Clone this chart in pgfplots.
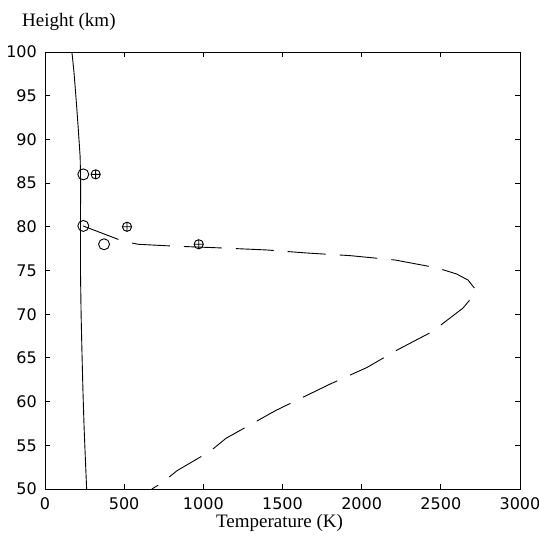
\documentclass[border=0pt]{standalone}
\usepackage{fontspec}
\setmainfont{Liberation Serif}
\newfontfamily\tickfont{DejaVu Sans}
\usepackage{pgfplots}
\pgfplotsset{compat=1.18}
\begin{document}
\begin{tikzpicture}
\begin{axis}[
  name=ax,
  width=475pt, height=437pt, scale only axis,
  xmin=0, xmax=3000, ymin=50, ymax=100,
  xtick distance=500, ytick distance=5,
  tick align=inside, major tick length=5pt,
  axis line style={line width=0.9pt},
  every tick/.style={line width=0.9pt, black},
  tick label style={font=\tickfont\fontsize{16}{19}\selectfont, inner sep=1pt},
  xticklabel style={yshift=-7pt},
  yticklabel style={xshift=-7pt},
  /pgf/number format/assume math mode=true,
  /pgf/number format/1000 sep={},
  scaled x ticks=false, scaled y ticks=false,
]
  % model profile (solid)
  \addplot[black, line width=0.9pt] coordinates {
    (263,50) (256,53) (247,57) (240,61) (233,66) (228,70) (224,75)
    (224,80) (225,85) (222,88) (211,91) (197,94.5) (183,97.7) (170,100)
  };
  % dashed profile
  \addplot[black, line width=0.9pt, dash pattern=on 38pt off 14pt] coordinates {
    (240,80.1) (486,78.4) (588,78.0) (800,77.8) (1086,77.6) (1400,77.35)
    (1655,77.0) (1927,76.7) (2211,76.2) (2476,75.3) (2600,74.6) (2672,73.9)
    (2716,72.9) (2700,72.0) (2640,70.7) (2445,68.0) (2224,65.9) (2033,63.9)
    (1800,62.0) (1459,59.0) (1143,55.8) (1042,54.3) (834,52.1) (739,50.7)
    (675,50)
  };
  % open circles
  \addplot[only marks, mark=o, mark size=5.5pt, black, mark options={line width=0.9pt}] coordinates {
    (242,86) (242,80.1) (373,78)
  };
  % circle-plus
  \addplot[only marks, mark=oplus, mark size=4.6pt, black, mark options={line width=0.9pt}] coordinates {
    (320,86) (518,80) (971,78)
  };
\end{axis}
\node[anchor=base west, inner sep=0pt, font=\fontsize{19}{22}\selectfont] at ([xshift=-23pt, yshift=25pt]ax.north west) {Height (km)};
\node[anchor=base, inner sep=0pt, font=\fontsize{19}{22}\selectfont] at ([xshift=-3pt, yshift=-38pt]ax.south) {Temperature (K)};
\pgfresetboundingbox
\path ([xshift=-45pt, yshift=-51pt]ax.south west) rectangle ([xshift=19pt, yshift=52pt]ax.north east);
\end{tikzpicture}
\end{document}
